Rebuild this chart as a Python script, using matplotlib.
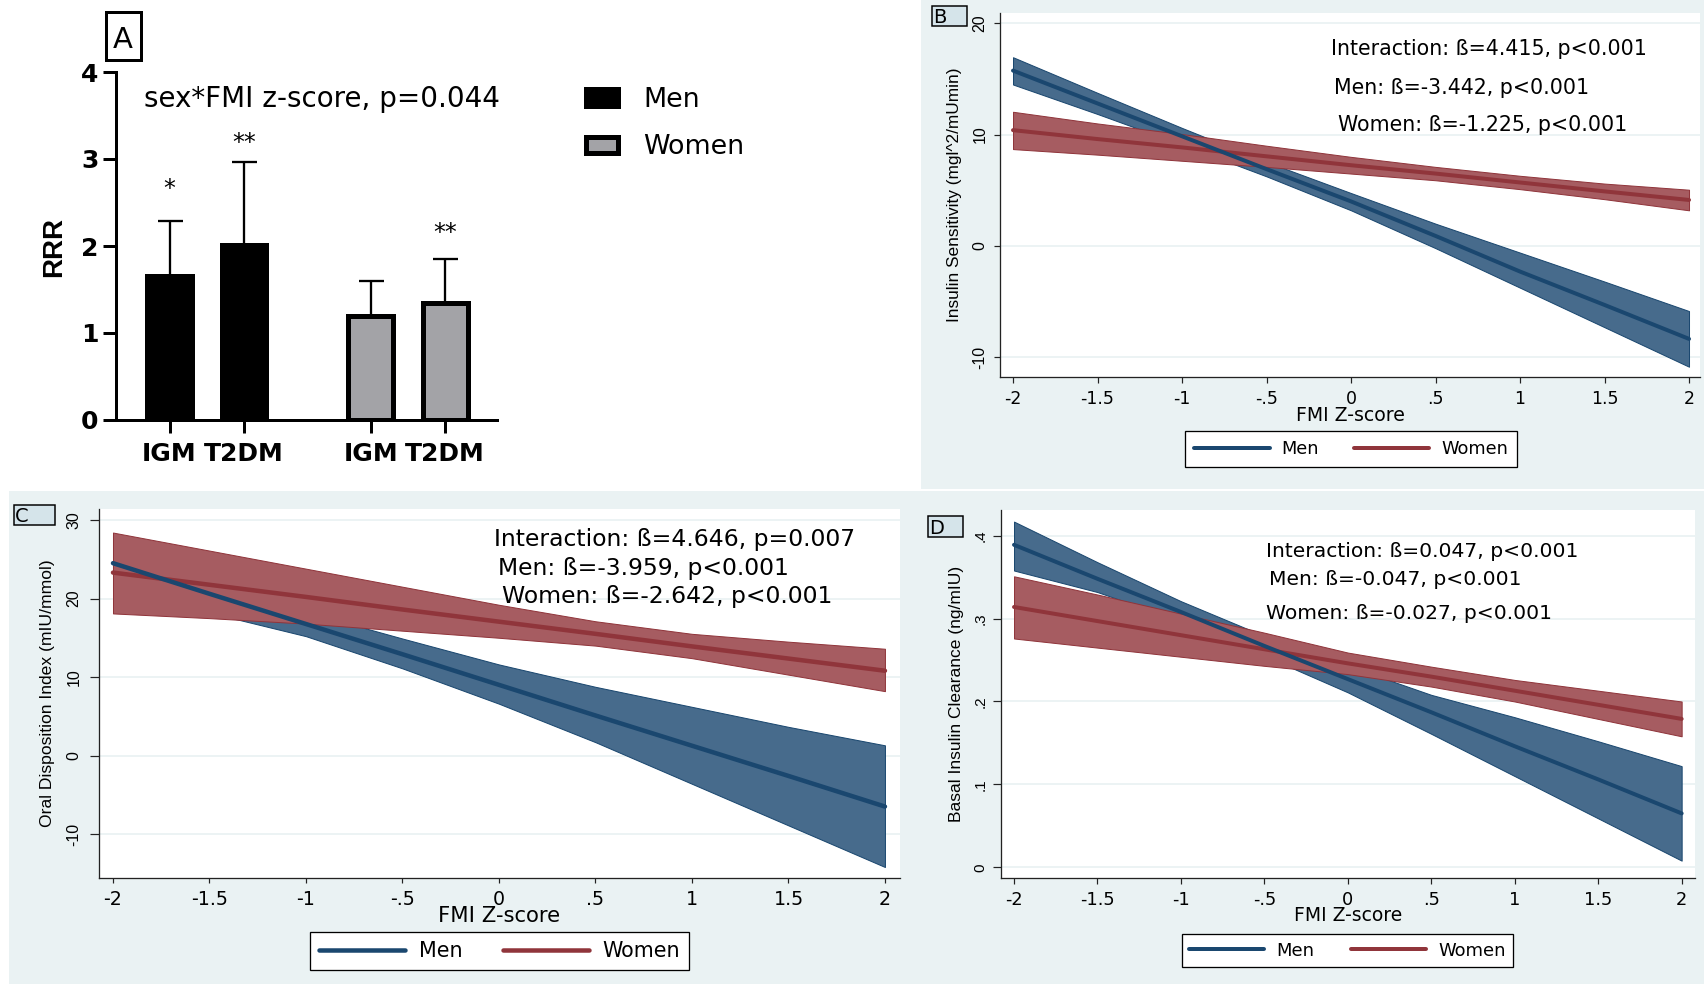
import numpy as np
import matplotlib
matplotlib.use('Agg')
import matplotlib.pyplot as plt
from matplotlib.patches import Rectangle

plt.rcParams['font.family'] = ['DejaVu Sans']
ROT = ['Liberation Sans', 'DejaVu Sans']

W, H, DPI = 1704, 984, 100
PX = 72.0 / DPI  # points per pixel

# ---------------- Panel A data ----------------
outcomes = ['IGM', 'T2DM']
sexes = ['Men', 'Women']
rrr_men = [1.66, 2.01]
rrr_men_upper = [2.29, 2.96]
rrr_women = [1.19, 1.34]
rrr_women_upper = [1.60, 1.85]
sig_men = ['*', '**']
sig_women = ['', '**']
sig_men_y = [2.74, 3.26]
sig_women_y = [None, 2.23]
rrr_ticks = [0, 1, 2, 3, 4]
note_a = 'sex*FMI z-score, p=0.044'

# ---------------- Panels B-D data ----------------
fmi_z = [-2, -1.5, -1, -0.5, 0, 0.5, 1, 1.5, 2]
fmi_labels = ['-2', '-1.5', '-1', '-.5', '0', '.5', '1', '1.5', '2']

# B: Insulin sensitivity
si_men_fit = [15.75, 12.8, 9.85, 6.9, 4.0, 0.9, -2.3, -5.3, -8.35]
si_men_lo = [14.5, 11.85, 9.1, 6.25, 3.2, -0.2, -3.75, -7.3, -10.85]
si_men_hi = [16.95, 13.75, 10.6, 7.55, 4.75, 2.0, -0.6, -3.2, -5.85]
si_women_fit = [10.4, 9.6, 8.85, 8.05, 7.25, 6.5, 5.7, 4.9, 4.13]
si_women_lo = [8.7, 8.2, 7.65, 7.1, 6.5, 5.9, 5.1, 4.2, 3.2]
si_women_hi = [12.05, 11.0, 10.05, 9.0, 8.0, 7.1, 6.3, 5.6, 5.05]
si_ticks = [-10, 0, 10, 20]
si_ticklabels = ['-10', '0', '10', '20']
si_notes = ['Interaction: ß=4.415, p<0.001', 'Men: ß=-3.442, p<0.001',
            'Women: ß=-1.225, p<0.001']

# C: Oral disposition index
di_men_fit = [24.5, 20.6, 16.75, 12.9, 9.0, 5.1, 1.25, -2.6, -6.5]
di_men_lo = [21.0, 18.2, 15.2, 11.1, 6.6, 1.7, -3.6, -8.9, -14.2]
di_men_hi = [28.0, 23.0, 18.3, 14.9, 11.6, 8.75, 6.2, 3.65, 1.3]
di_women_fit = [23.3, 21.75, 20.2, 18.6, 17.05, 15.5, 13.9, 12.35, 10.8]
di_women_lo = [18.1, 17.5, 16.8, 15.9, 15.0, 14.0, 12.4, 10.3, 8.2]
di_women_hi = [28.4, 26.1, 23.8, 21.5, 19.2, 17.1, 15.5, 14.5, 13.6]
di_ticks = [-10, 0, 10, 20, 30]
di_ticklabels = ['-10', '0', '10', '20', '30']
di_notes = ['Interaction: ß=4.646, p=0.007', 'Men: ß=-3.959, p<0.001',
            'Women: ß=-2.642, p<0.001']

# D: Basal insulin clearance
bic_men_fit = [0.389, 0.348, 0.308, 0.267, 0.227, 0.187, 0.146, 0.106, 0.065]
bic_men_lo = [0.358, 0.332, 0.297, 0.255, 0.211, 0.161, 0.110, 0.059, 0.008]
bic_men_hi = [0.417, 0.368, 0.321, 0.279, 0.243, 0.208, 0.181, 0.152, 0.122]
bic_women_fit = [0.314, 0.297, 0.280, 0.263, 0.246, 0.230, 0.213, 0.196, 0.179]
bic_women_lo = [0.276, 0.265, 0.254, 0.243, 0.233, 0.218, 0.200, 0.179, 0.158]
bic_women_hi = [0.351, 0.329, 0.306, 0.283, 0.259, 0.242, 0.226, 0.213, 0.200]
bic_ticks = [0, 0.1, 0.2, 0.3, 0.4]
bic_ticklabels = ['0', '.1', '.2', '.3', '.4']
bic_notes = ['Interaction: ß=0.047, p<0.001', 'Men: ß=-0.047, p<0.001',
             'Women: ß=-0.027, p<0.001']

# ---------------- styles ----------------
BG = '#eaf2f3'
GRID = '#eaf2f3'
NAVY = '#1a476f'
MAROON = '#90353b'
NAVY_FILL = '#476b8c'
MAROON_FILL = '#a65c61'
AXC = '#222222'
GREY = '#a3a3a7'
LABEL_FILL = '#d5e4ea'

fig = plt.figure(figsize=(W / DPI, H / DPI), dpi=DPI)
fig.patch.set_facecolor('white')


def fx(x):
    return x / W


def fy(y):
    return 1 - y / H


def rect_px(x0, y0, x1, y1, **kw):
    r = Rectangle((fx(x0), fy(y1)), (x1 - x0) / W, (y1 - y0) / H,
                  transform=fig.transFigure, **kw)
    fig.add_artist(r)
    return r


# background panels
rect_px(921, 0, 1704, 489, facecolor=BG, edgecolor='none', zorder=-10)
rect_px(9, 491, 1704, 984, facecolor=BG, edgecolor='none', zorder=-10)


def panel_label(letter, x0, y0, x1, y1, fs=14):
    rect_px(x0, y0, x1, y1, facecolor=LABEL_FILL, edgecolor='black',
            linewidth=1.5 * PX, zorder=5)
    em = fs / PX
    fig.text(fx(x0 + 1), fy((y0 + y1) / 2 + 0.365 * em), letter, fontsize=fs,
             ha='left', va='baseline', zorder=6)


def stata_panel(box, xlim, ylim, yticks, yticklabels, ylabel, men, women,
                notes, st):
    l, t, r, b = box
    ax = fig.add_axes([fx(l), fy(b), (r - l) / W, (b - t) / H])
    ax.set_facecolor('white')
    ax.set_xlim(xlim)
    ax.set_ylim(ylim)
    ax.spines[['top', 'right']].set_visible(False)
    for s in ('left', 'bottom'):
        ax.spines[s].set_color(AXC)
        ax.spines[s].set_linewidth(1.3 * PX)
    ax.set_axisbelow(True)
    ax.grid(axis='y', color=GRID, linewidth=1.8 * PX)
    m_fit, m_lo, m_hi = men
    w_fit, w_lo, w_hi = women
    ax.fill_between(fmi_z, m_lo, m_hi, facecolor=NAVY_FILL, edgecolor=NAVY,
                    linewidth=1.0 * PX, zorder=2)
    ax.fill_between(fmi_z, w_lo, w_hi, facecolor=MAROON_FILL, edgecolor=MAROON,
                    linewidth=1.0 * PX, zorder=3)
    lw = st['lw'] * PX
    l_w, = ax.plot(fmi_z, w_fit, color=MAROON, lw=lw, solid_capstyle='round', zorder=4)
    l_m, = ax.plot(fmi_z, m_fit, color=NAVY, lw=lw, solid_capstyle='round', zorder=5)
    ax.set_xticks(fmi_z, fmi_labels, fontsize=st['xfs'])
    ax.set_yticks(yticks, yticklabels, fontsize=st['yfs'], family=ROT,
                  rotation=90, va='center')
    ax.tick_params(axis='x', length=st['xtl'] * PX, width=1.2 * PX, color=AXC,
                   pad=st['xpad'])
    ax.tick_params(axis='y', length=st['ytl'] * PX, width=1.2 * PX, color=AXC,
                   pad=st['ypad'])
    ax.set_xlabel('FMI Z-score', fontsize=st['xlfs'])
    ax.xaxis.set_label_coords(0.5, st['xly'])
    ax.xaxis.label.set_va('center')
    ax.set_ylabel(ylabel, fontsize=st['ylfs'], family=ROT)
    ax.yaxis.set_label_coords(st['ylx'], 0.5)
    ax.yaxis.label.set_va('center')
    em = st['nfs'] / PX
    for txt, (xp, yp) in zip(notes, st['notes_px']):
        fig.text(fx(xp), fy(yp + 0.365 * em), txt, fontsize=st['nfs'],
                 ha='left', va='baseline')
    cx, cy = st['leg_c']
    leg = fig.legend([l_m, l_w], sexes, loc='center',
                     bbox_to_anchor=(fx(cx), fy(cy)), ncol=2,
                     fontsize=st['legfs'], frameon=True, fancybox=False,
                     edgecolor='black', facecolor='white', framealpha=1,
                     handlelength=st['hl'], handletextpad=st['htp'],
                     columnspacing=st['cs'], borderpad=st['bp'])
    leg.get_frame().set_linewidth(1.3 * PX)
    return ax


# ---------------- Panel A ----------------
A_L, A_T, A_R, A_B = 116, 72, 497, 420
UNIT = 74.5          # pixels per category unit
X0 = 169.5           # pixel of first bar centre
axA = fig.add_axes([fx(A_L), fy(A_B), (A_R - A_L) / W, (A_B - A_T) / H])
axA.set_facecolor('none')
xpos_men = np.arange(len(outcomes), dtype=float)
xpos_women = xpos_men + 2.7
BAR_W = 0.60
axA.set_xlim((A_L - X0) / UNIT, (A_R - X0) / UNIT)
axA.set_ylim(0, 4)
bm = axA.bar(xpos_men, rrr_men, BAR_W, color='black', edgecolor='black',
             linewidth=5 * PX, zorder=2)
bw = axA.bar(xpos_women, rrr_women, BAR_W, color=GREY, edgecolor='black',
             linewidth=5 * PX, zorder=2)
for xp, v, up in ((xpos_men, rrr_men, rrr_men_upper),
                  (xpos_women, rrr_women, rrr_women_upper)):
    v = np.array(v)
    up = np.array(up)
    axA.errorbar(xp, v, yerr=[np.zeros_like(v), up - v], fmt='none',
                 ecolor='black', elinewidth=2.3 * PX, capsize=12.5 * PX,
                 capthick=2.3 * PX, zorder=1)
STAR_FS = 17
star_centre_off = 0.59 * (STAR_FS / PX) / ((A_B - A_T) / 4.0)
for xp, ys, sig in ((xpos_men, sig_men_y, sig_men),
                    (xpos_women, sig_women_y, sig_women)):
    for x, y, s in zip(xp, ys, sig):
        if s:
            axA.text(x, y - star_centre_off, s, ha='center',
                     va='baseline', fontsize=STAR_FS)
axA.spines[['top', 'right']].set_visible(False)
for s in ('left', 'bottom'):
    axA.spines[s].set_linewidth(3 * PX)
    axA.spines[s].set_color('black')
axA.set_yticks(rrr_ticks, [str(t) for t in rrr_ticks], fontweight='bold',
               fontsize=18)
axA.set_xticks(list(xpos_men) + list(xpos_women), outcomes * 2,
               fontweight='bold', fontsize=18)
axA.tick_params(axis='y', length=13 * PX, width=3 * PX, pad=3.2)
axA.tick_params(axis='x', length=13 * PX, width=3 * PX, pad=6.5)
axA.legend([bm, bw], sexes, loc='center left',
           bbox_to_anchor=(fx(585.5), fy(123.7)), bbox_transform=fig.transFigure,
           frameon=False, fontsize=19.4, handlelength=1.2, handleheight=0.55,
           handletextpad=0.95, labelspacing=0.8, borderpad=0, borderaxespad=0)
fig.text(fx(144.5), fy(107.1), note_a, fontsize=20, ha='left', va='baseline')
fig.text(fx(54), fy(247), 'RRR', rotation=90, fontweight='bold', fontsize=20,
         family=ROT, ha='center', va='center')
rect_px(105.6, 11.7, 140.8, 60, facecolor='white', edgecolor='black',
        linewidth=3 * PX, zorder=5)
fig.text(fx(123.2), fy(48.2), 'A', fontsize=21, ha='center', va='baseline',
         zorder=6)

# ---------------- Panel B ----------------
stB = dict(xfs=12.5, yfs=11.5, xlfs=13.6, ylfs=12.4, lw=4, xtl=6, xpad=4.8,
           ytl=6, ypad=4.6, xly=-0.106, ylx=-0.0643, legfs=12.8,
           leg_c=(1351, 449), hl=4.27, htp=0.67, cs=1.94, bp=0.48, nfs=14.8,
           notes_px=[(1331, 47.7), (1334, 86), (1337.5, 123)])
stata_panel((1000, 12.7, 1700, 377.3), (-2.077, 2.065), (-11.8, 20.95),
            si_ticks, si_ticklabels, 'Insulin Sensitivity (mgl^2/mUmin)',
            (si_men_fit, si_men_lo, si_men_hi),
            (si_women_fit, si_women_lo, si_women_hi), si_notes, stB)
panel_label('B', 932.5, 6, 967.5, 26)

# ---------------- Panel C ----------------
stC = dict(xfs=13.7, yfs=11.5, xlfs=15.2, ylfs=12.6, lw=4.5, xtl=5, xpad=4.7,
           ytl=9, ypad=6, xly=-0.102, ylx=-0.0637, legfs=14.9,
           leg_c=(499.5, 951), hl=4.15, htp=0.68, cs=1.96, bp=0.42, nfs=16.9,
           notes_px=[(494, 537.7), (497.6, 566.7), (501.8, 594)])
stata_panel((99, 509, 900, 878), (-2.0725, 2.078), (-15.6, 31.4),
            di_ticks, di_ticklabels, 'Oral Disposition Index (mIU/mmol)',
            (di_men_fit, di_men_lo, di_men_hi),
            (di_women_fit, di_women_lo, di_women_hi), di_notes, stC)
panel_label('C', 14, 505, 55, 525)

# ---------------- Panel D ----------------
stD = dict(xfs=12.8, yfs=11, xlfs=13.5, ylfs=12.5, lw=4, xtl=6, xpad=5,
           ytl=8, ypad=4.1, xly=-0.102, ylx=-0.0648, legfs=12.9,
           leg_c=(1347.5, 950.5), hl=4.2, htp=0.67, cs=2.04, bp=0.42, nfs=14.6,
           notes_px=[(1266, 549.3), (1269, 578), (1266, 612)])
stata_panel((1001, 510, 1695, 878.3), (-2.078, 2.08), (-0.0133, 0.431),
            bic_ticks, bic_ticklabels, 'Basal Insulin Clearance (ng/mIU)',
            (bic_men_fit, bic_men_lo, bic_men_hi),
            (bic_women_fit, bic_women_lo, bic_women_hi), bic_notes, stD)
panel_label('D', 928, 516, 963, 537)

fig.savefig('out.png', dpi=DPI)
